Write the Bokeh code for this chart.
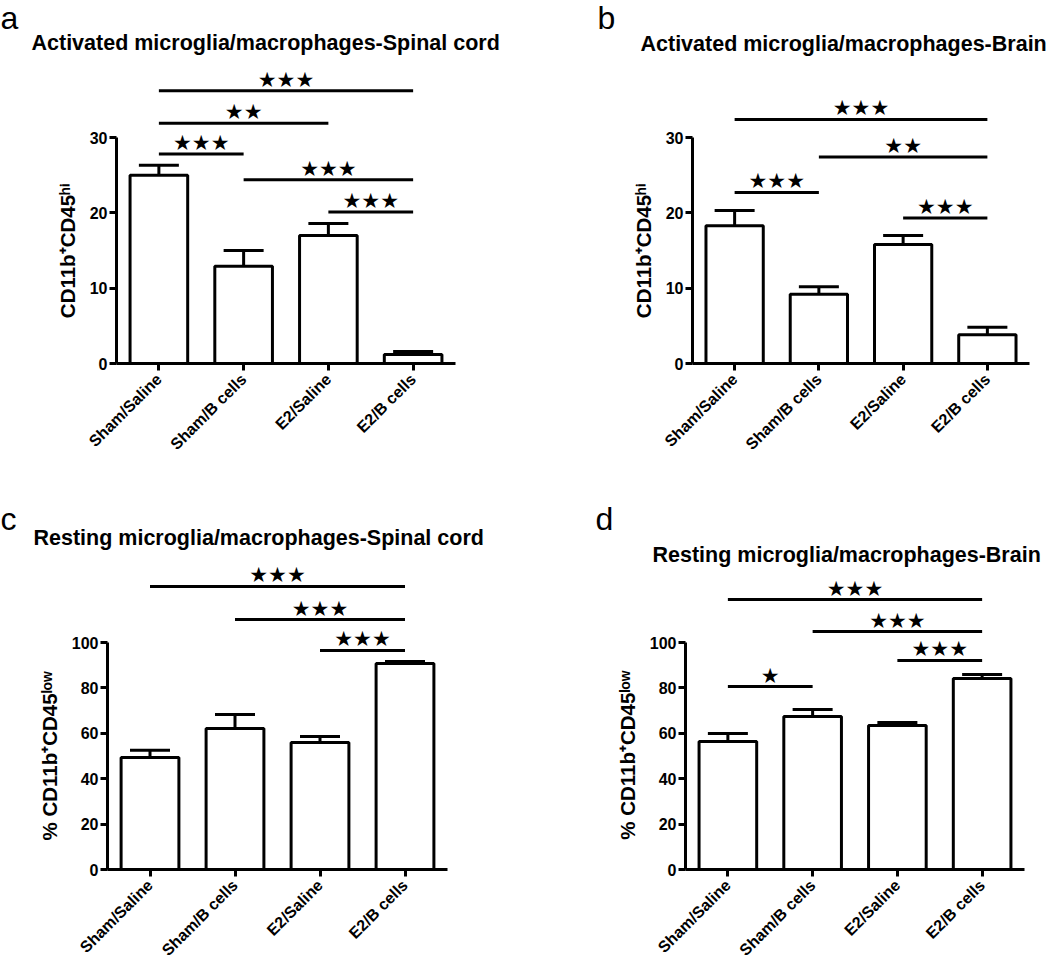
import math
from bokeh.plotting import figure
from bokeh.models import FixedTicker, Whisker, TeeHead, ColumnDataSource, Range1d
from bokeh.layouts import column, row
from bokeh.embed import file_html
from bokeh.resources import INLINE
from bokeh.core.properties import value

# ---------------- data ----------------
categories = ["Sham/Saline", "Sham/B cells", "E2/Saline", "E2/B cells"]

a_mean = [25.0, 12.9, 17.0, 1.2]
a_sem = [1.3, 2.1, 1.6, 0.4]
a_sig_left = [0, 0, 0, 1, 2]
a_sig_right = [3, 2, 1, 3, 3]
a_sig_level = [36.2, 31.9, 27.8, 24.4, 20.1]
a_sig_stars = [3, 2, 3, 3, 3]

b_mean = [18.3, 9.2, 15.8, 3.8]
b_sem = [2.0, 1.0, 1.2, 1.0]
b_sig_left = [0, 1, 0, 2]
b_sig_right = [3, 3, 1, 3]
b_sig_level = [32.4, 27.4, 22.7, 19.3]
b_sig_stars = [3, 2, 3, 3]

c_mean = [49.3, 62.1, 55.9, 90.7]
c_sem = [3.2, 6.2, 2.7, 0.9]
c_sig_left = [0, 1, 2]
c_sig_right = [3, 3, 3]
c_sig_level = [124.7, 110.1, 96.5]
c_sig_stars = [3, 3, 3]

d_mean = [56.4, 67.4, 63.4, 84.1]
d_sem = [3.5, 3.1, 1.4, 1.8]
d_sig_left = [0, 1, 2, 0]
d_sig_right = [3, 3, 3, 1]
d_sig_level = [118.9, 104.8, 92.1, 80.6]
d_sig_stars = [3, 3, 3, 1]

titles = ["Activated microglia/macrophages-Spinal cord",
          "Activated microglia/macrophages-Brain",
          "Resting microglia/macrophages-Spinal cord",
          "Resting microglia/macrophages-Brain"]
letters = ["a", "b", "c", "d"]
ylabel_act = "CD11b\u207aCD45\u02b0\u2071"
ylabel_rest = "% CD11b\u207aCD45\u02e1\u1d52\u02b7"

FONT = "Liberation Sans"
STAR = "\u2605"
TITLE_SIZE = 21.5
LETTER_SIZE = 32.0
YLABEL_SIZE = 20.5


def header(W, H, letter, letter_xy, title, title_xy):
    # positions given as text baselines in pixels; the text is placed by its middle
    p = figure(width=W, height=H, x_range=Range1d(0, W), y_range=Range1d(H, 0),
               output_backend="svg", toolbar_location=None, title=None,
               x_axis_location=None, y_axis_location=None, frame_align=False,
               min_border_left=0, min_border_right=0, min_border_top=0, min_border_bottom=0)
    p.xgrid.visible = False
    p.ygrid.visible = False
    p.outline_line_color = None
    p.text(x=[letter_xy[0]], y=[letter_xy[1] - 0.31 * LETTER_SIZE], text=[letter],
           text_font=value(FONT), text_font_size=f"{LETTER_SIZE}px", text_align="left",
           text_baseline="alphabetic", text_color="black")
    p.text(x=[title_xy[0]], y=[title_xy[1] - 0.33 * TITLE_SIZE], text=[title],
           text_font=value(FONT), text_font_size=f"{TITLE_SIZE}px", text_font_style="bold",
           text_align="left", text_baseline="alphabetic", text_color="black")
    return p


def panel(ylabel, means, sems, sl, sr, slev, sstars,
          ymax_axis, ystep, ppu, W, H, fl, fw, fb):
    y_end = fb / ppu
    p = figure(width=W, height=H, x_range=Range1d(-0.5, 3.5), y_range=Range1d(0, y_end),
               output_backend="svg", toolbar_location=None, title=None, frame_align=False,
               min_border_left=fl, min_border_right=W - fl - fw,
               min_border_top=0, min_border_bottom=H - fb)
    p.xgrid.visible = False
    p.ygrid.visible = False
    p.outline_line_color = None

    xa = p.xaxis[0]
    xa.ticker = FixedTicker(ticks=list(range(len(categories))))
    xa.major_label_overrides = {i: c for i, c in enumerate(categories)}
    xa.major_label_orientation = math.pi / 4
    xa.major_label_text_font = FONT
    xa.major_label_text_font_style = "bold"
    xa.major_label_text_font_size = "16px"
    xa.major_label_text_color = "black"
    xa.major_label_standoff = 6
    xa.axis_line_width = 3
    xa.axis_line_color = "black"
    xa.major_tick_line_width = 3
    xa.major_tick_line_color = "black"
    xa.major_tick_out = 7
    xa.major_tick_in = 0
    xa.minor_tick_line_color = None

    ya = p.yaxis[0]
    ya.ticker = FixedTicker(ticks=list(range(0, ymax_axis + 1, ystep)))
    ya.bounds = (0, ymax_axis)
    ya.major_label_text_font = FONT
    ya.major_label_text_font_style = "bold"
    ya.major_label_text_font_size = "16px"
    ya.major_label_text_color = "black"
    ya.major_label_standoff = 2
    ya.axis_line_width = 3
    ya.axis_line_color = "black"
    ya.major_tick_line_width = 3
    ya.major_tick_line_color = "black"
    ya.major_tick_out = 7
    ya.major_tick_in = 0
    ya.minor_tick_line_color = None
    # the label is centred on the frame; pad its upper end so it sits centred on the
    # axis bounds (0..ymax) like the reference
    shift_px = fb / 2.0 - ymax_axis * ppu / 2.0
    pad_em = 2.0 * shift_px / YLABEL_SIZE
    n_em = int(pad_em)
    n_sixth = int(round((pad_em - n_em) * 6))
    ya.axis_label = ylabel + "\u2003" * n_em + "\u2006" * n_sixth
    ya.axis_label_text_font = FONT
    ya.axis_label_text_font_style = "bold"
    ya.axis_label_text_font_size = f"{YLABEL_SIZE}px"
    ya.axis_label_text_color = "black"
    ya.axis_label_standoff = 8

    xs = list(range(len(categories)))
    p.vbar(x=xs, top=means, bottom=0, width=0.68, fill_color="white",
           line_color="black", line_width=3)
    src = ColumnDataSource(dict(x=xs, lower=means,
                                upper=[m + s for m, s in zip(means, sems)]))
    p.add_layout(Whisker(base="x", lower="lower", upper="upper", source=src,
                         line_width=3, line_color="black",
                         upper_head=TeeHead(size=40, line_width=3, line_color="black"),
                         lower_head=None))

    p.segment(x0=sl, x1=sr, y0=slev, y1=slev, line_width=3, line_color="black")
    star_txt = [STAR * n for n in sstars]
    p.text(x=[(l + r) / 2 for l, r in zip(sl, sr)],
           y=[lv + 11.0 / ppu for lv in slev], text=star_txt,
           text_align="center", text_baseline="alphabetic",
           text_font=value("DejaVu Sans"), text_font_size="21px", text_color="black")
    return p


PPU_TOP = 226.0 / 30
PPU_BOT = 227.0 / 100

ha = header(520, 60, letters[0], (0, 27), titles[0], (31, 50))
pa = panel(ylabel_act, a_mean, a_sem, a_sig_left, a_sig_right, a_sig_level, a_sig_stars,
           30, 10, PPU_TOP, 520, 432, 116, 339, 303)
hc = header(520, 61, letters[2], (0, 36), titles[2], (33, 53))
pc = panel(ylabel_rest, c_mean, c_sem, c_sig_left, c_sig_right, c_sig_level, c_sig_stars,
           100, 20, PPU_BOT, 520, 414, 107, 340, 316)

hb = header(528, 60, letters[1], (77, 27), titles[1], (120, 51))
pb = panel(ylabel_act, b_mean, b_sem, b_sig_left, b_sig_right, b_sig_level, b_sig_stars,
           30, 10, PPU_TOP, 528, 432, 172, 337, 303)
hd = header(528, 80, letters[3], (75, 36), titles[3], (132, 70))
pd_ = panel(ylabel_rest, d_mean, d_sem, d_sig_left, d_sig_right, d_sig_level, d_sig_stars,
            100, 20, PPU_BOT, 528, 395, 165, 339, 297)

layout = row(column(ha, pa, hc, pc), column(hb, pb, hd, pd_))
open("out.html", "w").write(file_html(layout, INLINE))
